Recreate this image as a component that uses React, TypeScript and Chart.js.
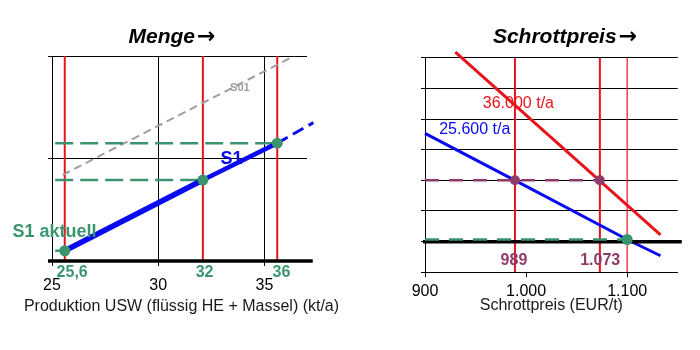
import React, { useEffect, useRef } from "react";
import { Chart, registerables } from "chart.js";

Chart.register(...registerables);

// ---------- Data: left chart (Menge) ----------
const mengeTitle = "Menge";
const mengeAxisTitle = "Produktion USW (flüssig HE + Massel) (kt/a)";
const mengeXTicks = [25, 30, 35];
const mengeXTickLabels = ["25", "30", "35"];
const mengeMarkX = [25.6, 32.1, 35.6];
const mengeMarkLabels = ["25,6", "32", "36"];
const s1X = [25.6, 32.1, 35.6];
const s1Y = [0.1, 0.79, 1.15];
const s1ExtX = [35.6, 37.3];
const s1ExtY = [1.15, 1.35];
const s01X = [25.5, 36.4];
const s01Y = [0.84, 2.0];
const mengeDashStartX = 25.15;

// ---------- Data: right chart (Schrottpreis) ----------
const preisTitle = "Schrottpreis";
const preisAxisTitle = "Schrottpreis (EUR/t)";
const preisXTicks = [900, 1000, 1100];
const preisXTickLabels = ["900", "1.000", "1.100"];
const preisMarkX = [989, 1073];
const preisMarkLabels = ["989", "1.073"];
const preisRefX = [1100];
const t36000X = [930, 1133];
const t36000Y = [6.18, 0.22];
const t25600X = [900, 989, 1100, 1133];
const t25600Y = [3.53, 2.0, 0.07, -0.46];
const purpleLevel = 2.0;
const greenLevel = 0.07;
const preisDashStartX = 900;

// ---------- Styles ----------
const FONT = "Arial, 'Liberation Sans', sans-serif";
const ARROW_FONT = "'DejaVu Sans', sans-serif";
const RED = "#E8141B";
const BLUE = "#0A0AF0";
const GREEN = "#3A956F";
const PURPLE = "#8E3B6B";
const GRAY = "#9E9E9E";

type Note = {
  text: string;
  x: number;
  y: number;
  color: string;
  size: number;
  bold?: boolean;
};

type Frame = {
  title: string;
  titleX: number;
  titleY: number;
  axisTitle?: string;
  axisX?: number;
  axisY?: number;
};

const seg = (xs: number[], ys: number[]) => xs.map((x, i) => ({ x, y: ys[i] }));

const notesPlugin = (items: Note[], frame: Frame) => ({
  id: "notes",
  afterDatasetsDraw(chart: any) {
    const { ctx, scales } = chart;
    ctx.save();
    for (const n of items) {
      ctx.font = `${n.bold ? "bold " : ""}${n.size}px ${FONT}`;
      ctx.fillStyle = n.color;
      ctx.textAlign = "center";
      ctx.textBaseline = "middle";
      ctx.fillText(n.text, scales.x.getPixelForValue(n.x), scales.y.getPixelForValue(n.y));
    }
    // title: word + arrow
    const wordFont = `italic bold 21px ${FONT}`;
    const arrowFont = `bold 22px ${ARROW_FONT}`;
    ctx.font = wordFont;
    const w1 = ctx.measureText(frame.title).width;
    ctx.font = arrowFont;
    const w2 = ctx.measureText("→").width;
    const gap = 2;
    const x0 = frame.titleX - (w1 + gap + w2) / 2;
    ctx.fillStyle = "#000";
    ctx.textAlign = "left";
    ctx.textBaseline = "middle";
    ctx.font = wordFont;
    ctx.fillText(frame.title, x0, frame.titleY);
    ctx.font = arrowFont;
    ctx.fillText("→", x0 + w1 + gap, frame.titleY);
    if (frame.axisTitle) {
      ctx.font = `16px ${FONT}`;
      ctx.fillStyle = "#1a1a1a";
      ctx.textAlign = "center";
      ctx.fillText(frame.axisTitle, frame.axisX, frame.axisY);
    }
    ctx.restore();
  },
});

const lineDs = (data: any[], color: string, width: number, order: number, extra: any = {}) => ({
  data,
  borderColor: color,
  backgroundColor: color,
  borderWidth: width,
  pointRadius: 0,
  fill: false,
  tension: 0,
  order,
  ...extra,
});

function leftConfig(): any {
  const datasets: any[] = [];
  datasets.push({
    data: seg(s1X, s1Y),
    showLine: false,
    pointRadius: 5.5,
    pointBackgroundColor: GREEN,
    pointBorderWidth: 0,
    order: 0,
  });
  datasets.push(lineDs([{ x: 24.81, y: 0 }, { x: 37.27, y: 0 }], "#000", 3.5, 1, { clip: false }));
  datasets.push(lineDs(seg(s1X.slice(0, 2), s1Y.slice(0, 2)), BLUE, 5.5, 2));
  datasets.push(lineDs(seg(s1X.slice(1, 3), s1Y.slice(1, 3)), BLUE, 4.5, 2));
  datasets.push(lineDs(seg(s1ExtX, s1ExtY), BLUE, 3, 2, { borderDash: [12, 6], clip: false }));
  s1X.forEach((x, i) => {
    datasets.push(
      lineDs([{ x: mengeDashStartX, y: s1Y[i] }, { x, y: s1Y[i] }], GREEN, 2.5, 3, { borderDash: [18, 7] })
    );
  });
  datasets.push(lineDs(seg(s01X, s01Y), GRAY, 2, 4, { borderDash: [8, 5] }));
  mengeMarkX.forEach((x) => {
    datasets.push(lineDs([{ x, y: 0 }, { x, y: 2 }], RED, 2, 5));
  });

  const notes: Note[] = [
    { text: "S01", x: 33.84, y: 1.69, color: GRAY, size: 11, bold: true },
    { text: "S1", x: 33.45, y: 0.99, color: BLUE, size: 18, bold: true },
    { text: "S1 aktuell", x: 25.12, y: 0.283, color: GREEN, size: 18, bold: true },
    { text: mengeMarkLabels[0], x: 25.95, y: -0.11, color: GREEN, size: 16, bold: true },
    { text: mengeMarkLabels[1], x: 32.18, y: -0.11, color: GREEN, size: 16, bold: true },
    { text: mengeMarkLabels[2], x: 35.8, y: -0.11, color: GREEN, size: 16, bold: true },
  ];

  return {
    type: "line",
    data: { datasets },
    plugins: [
      notesPlugin(notes, {
        title: mengeTitle,
        titleX: 172,
        titleY: 37,
        axisTitle: mengeAxisTitle,
        axisX: 181.5,
        axisY: 307,
      }),
    ],
    options: {
      responsive: false,
      animation: false,
      events: [],
      layout: { padding: { left: 0, right: 37, top: 56, bottom: 33.4 } },
      plugins: {
        legend: { display: false },
        tooltip: { enabled: false },
        title: { display: false },
      },
      scales: {
        x: {
          type: "linear",
          min: 25,
          max: 37,
          afterBuildTicks: (s: any) => {
            s.ticks = mengeXTicks.map((v) => ({ value: v }));
          },
          afterFit: (s: any) => {
            s.height = 55.6;
            s.paddingLeft = 0;
            s.paddingRight = 0;
          },
          grid: { color: "#000", lineWidth: 1, tickLength: 5, drawTicks: true },
          border: { color: "#000", width: 1 },
          ticks: {
            color: "#000",
            font: { family: FONT, size: 16 },
            padding: 10.4,
            maxRotation: 0,
            autoSkip: false,
            callback: (v: number) => mengeXTickLabels[mengeXTicks.indexOf(v)] ?? "",
          },
          title: { display: false },
        },
        y: {
          type: "linear",
          min: 0,
          max: 2,
          afterFit: (s: any) => {
            s.width = 52;
          },
          ticks: { stepSize: 1, display: false },
          grid: { color: "#000", lineWidth: 1, tickLength: 4 },
          border: { color: "#000", width: 1 },
        },
      },
    },
  };
}

function rightConfig(): any {
  const datasets: any[] = [];
  datasets.push({
    data: preisMarkX.map((x) => ({ x, y: purpleLevel })),
    showLine: false,
    pointRadius: 5,
    pointBackgroundColor: PURPLE,
    pointBorderWidth: 0,
    order: 0,
  });
  datasets.push({
    data: preisRefX.map((x) => ({ x, y: greenLevel })),
    showLine: false,
    pointRadius: 5.5,
    pointBackgroundColor: GREEN,
    pointBorderWidth: 0,
    order: 0,
  });
  datasets.push(
    lineDs([{ x: preisDashStartX, y: greenLevel }, { x: preisRefX[0], y: greenLevel }], GREEN, 2.5, 1, {
      borderDash: [14, 10],
    })
  );
  datasets.push(lineDs([{ x: 898, y: 0 }, { x: 1154, y: 0 }], "#000", 3.5, 2, { clip: false }));
  datasets.push(
    lineDs([{ x: preisDashStartX, y: purpleLevel }, { x: preisMarkX[1], y: purpleLevel }], PURPLE, 2.5, 3, {
      borderDash: [14, 10],
    })
  );
  datasets.push(lineDs(seg(t25600X, t25600Y), BLUE, 3, 4, { clip: false }));
  datasets.push(lineDs(seg(t36000X, t36000Y), RED, 3, 4, { clip: false }));
  preisMarkX.forEach((x) => {
    datasets.push(lineDs([{ x, y: -1 }, { x, y: 6 }], RED, 2, 5));
  });
  preisRefX.forEach((x) => {
    datasets.push(lineDs([{ x, y: -1 }, { x, y: 6 }], RED, 1.2, 5));
  });

  const notes: Note[] = [
    { text: "36.000 t/a", x: 992.4, y: 4.49, color: RED, size: 16 },
    { text: "25.600 t/a", x: 949.2, y: 3.66, color: BLUE, size: 16 },
    { text: preisMarkLabels[0], x: 988, y: -0.62, color: PURPLE, size: 16, bold: true },
    { text: preisMarkLabels[1], x: 1073.3, y: -0.62, color: PURPLE, size: 16, bold: true },
  ];

  return {
    type: "line",
    data: { datasets },
    plugins: [notesPlugin(notes, { title: preisTitle, titleX: 565 - 405, titleY: 37 })],
    options: {
      responsive: false,
      animation: false,
      events: [],
      layout: { padding: { left: 0, right: 47.3, top: 57.7, bottom: 34.4 } },
      plugins: {
        legend: { display: false },
        tooltip: { enabled: false },
        title: { display: false },
      },
      scales: {
        x: {
          type: "linear",
          min: 900,
          max: 1150,
          afterBuildTicks: (s: any) => {
            s.ticks = preisXTicks.map((v) => ({ value: v }));
          },
          afterFit: (s: any) => {
            s.height = 43.3;
            s.paddingLeft = 0;
            s.paddingRight = 0;
          },
          grid: { color: "#000", lineWidth: 1, tickLength: 5, drawOnChartArea: false, drawTicks: true },
          border: { color: "#000", width: 1 },
          ticks: {
            color: "#000",
            font: { family: FONT, size: 16 },
            padding: 4.8,
            maxRotation: 0,
            autoSkip: false,
            callback: (v: number) => preisXTickLabels[preisXTicks.indexOf(v)] ?? "",
          },
          title: {
            display: true,
            text: preisAxisTitle,
            color: "#1a1a1a",
            font: { family: FONT, size: 16 },
            padding: 0,
          },
        },
        y: {
          type: "linear",
          min: -1,
          max: 6,
          afterFit: (s: any) => {
            s.width = 20;
          },
          ticks: { stepSize: 1, display: false },
          grid: { color: "#000", lineWidth: 1, tickLength: 4 },
          border: { color: "#000", width: 1 },
        },
      },
    },
  };
}

export default function App() {
  const leftRef = useRef<HTMLCanvasElement>(null);
  const rightRef = useRef<HTMLCanvasElement>(null);

  useEffect(() => {
    const c1 = new Chart(leftRef.current as HTMLCanvasElement, leftConfig());
    const c2 = new Chart(rightRef.current as HTMLCanvasElement, rightConfig());
    return () => {
      c1.destroy();
      c2.destroy();
    };
  }, []);

  return (
    <div
      style={{
        position: "absolute",
        left: 0,
        top: 0,
        width: 700,
        height: 350,
        overflow: "hidden",
        background: "#fff",
      }}
    >
      <canvas
        ref={leftRef}
        width={344}
        height={350}
        style={{ position: "absolute", left: 0, top: 0, display: "block" }}
      />
      <canvas
        ref={rightRef}
        width={320}
        height={350}
        style={{ position: "absolute", left: 405, top: 0, display: "block" }}
      />
    </div>
  );
}
